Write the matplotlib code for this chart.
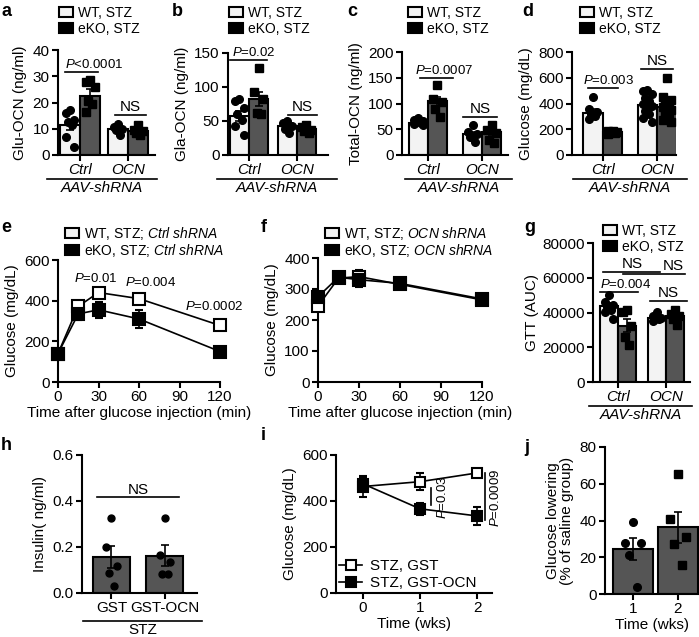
import numpy as np
import matplotlib
matplotlib.use("Agg")
import matplotlib.pyplot as plt
from matplotlib.patches import Patch
from matplotlib.lines import Line2D

plt.rcParams['font.family'] = ['Liberation Sans', 'DejaVu Sans']
plt.rcParams['mathtext.fontset'] = 'custom'
plt.rcParams['mathtext.rm'] = 'Liberation Sans'
plt.rcParams['mathtext.it'] = 'Liberation Sans:italic'
plt.rcParams['font.size'] = 11
plt.rcParams['axes.linewidth'] = 1.5
plt.rcParams['xtick.major.width'] = 1.5
plt.rcParams['ytick.major.width'] = 1.5
plt.rcParams['xtick.major.size'] = 4
plt.rcParams['ytick.major.size'] = 4

W, H = 699, 637
WHITE = "#f3f3f3"
DARK = "#555555"

# ---- data ----
groups = ["Ctrl", "OCN"]

# a: Glu-OCN
glu_wt = [11.4, 9.8]
glu_wt_sem = [1.9, 0.7]
glu_ko = [22.6, 9.2]
glu_ko_sem = [2.4, 0.7]
glu_wt_pts = [[17, 16, 13.3, 12.7, 11.4, 7, 3], [12, 10.5, 10, 9.5, 7.5]]
glu_ko_pts = [[28.5, 28, 26, 20.5, 19.5, 16.5], [11.5, 9.5, 9, 8.5, 7.5]]

# b: Gla-OCN
gla_wt = [57.5, 43]
gla_wt_sem = [7, 4]
gla_ko = [82, 38]
gla_ko_sem = [10, 3]
gla_wt_pts = [[83, 79, 69, 61, 52, 42, 30], [50, 47, 43, 38, 33]]
gla_ko_pts = [[128, 92, 82, 62, 60], [44, 41, 37, 35, 33]]

# c: Total-OCN
tot_wt = [63, 40]
tot_wt_sem = [2, 5]
tot_ko = [104.5, 44]
tot_ko_sem = [9, 6]
tot_wt_pts = [[72, 68, 66, 64, 62, 60, 58], [58, 45, 40, 35, 26]]
tot_ko_pts = [[135, 108, 103, 90, 74], [58, 48, 42, 30, 24]]

# d: Glucose
glc_wt = [330, 390]
glc_wt_sem = [25, 20]
glc_ko = [175, 372]
glc_ko_sem = [8, 25]
glc_wt_pts = [[452, 355, 335, 315, 300, 280],
              [505, 500, 470, 440, 420, 400, 380, 360, 345, 320, 285, 260]]
glc_ko_pts = [[190, 185, 180, 175, 170, 165],
              [600, 450, 430, 410, 390, 370, 350, 330, 310, 290, 270, 260]]

# e, f: GTT time course
gtt_time = [0, 15, 30, 60, 120]
e_wt = [140, 372, 440, 410, 278]
e_wt_sem = [10, 15, 12, 10, 10]
e_ko = [140, 335, 355, 310, 150]
e_ko_sem = [10, 30, 38, 42, 15]
e_pvals = ["$P$=0.01", "$P$=0.004", "$P$=0.0002"]
f_wt = [245, 335, 340, 315, 265]
f_wt_sem = [10, 10, 22, 8, 8]
f_ko = [275, 338, 330, 318, 268]
f_ko_sem = [12, 10, 25, 8, 10]

# g: GTT AUC
auc_wt = [43800, 37000]
auc_wt_sem = [1500, 800]
auc_ko = [32500, 38000]
auc_ko_sem = [3800, 1600]
auc_wt_pts = [[50000, 46000, 44500, 43000, 41500, 40500, 36000],
              [40500, 38000, 37000, 36500, 36000, 35000]]
auc_ko_pts = [[41500, 40500, 32000, 26000, 21500],
              [41500, 39000, 38000, 36500, 33000]]

# h: insulin
ins_groups = ["GST", "GST-OCN"]
ins_mean = [0.155, 0.162]
ins_sem = [0.048, 0.045]
ins_pts = [[0.325, 0.2, 0.116, 0.087, 0.029], [0.325, 0.166, 0.133, 0.084, 0.084]]

# i: glucose over weeks
weeks = [0, 1, 2]
i_gst = [463, 484, 522]
i_gst_sem = [45, 38, 18]
i_ocn = [475, 366, 335]
i_ocn_sem = [30, 27, 40]

# j: glucose lowering
j_weeks = [1, 2]
j_mean = [24.5, 36.2]
j_sem = [5.8, 8.2]
j_pts = [[39, 28, 28, 21, 4], [65.5, 41, 31, 27, 16]]


fig = plt.figure(figsize=(W / 100, H / 100), dpi=100)


def px_axes(l, t, r, b):
    ax = fig.add_axes([l / W, 1 - b / H, (r - l) / W, (b - t) / H])
    ax.spines['top'].set_visible(False)
    ax.spines['right'].set_visible(False)
    ax.tick_params(labelsize=11, pad=2)
    return ax


def jitter(n, spread):
    pattern = np.array([0, -1, 1, -0.5, 0.5, -1, 1, 0, -0.5, 0.5, -1, 1, 0])
    return pattern[:n] * spread


def dots(ax, x, pts, marker, spread, ms=5.5):
    ax.plot(x + jitter(len(pts), spread), pts, ls='none', marker=marker,
            color='black', ms=ms, zorder=3, clip_on=False)


def grouped_bars(ax, wt, wt_sem, wt_pts, ko, ko_sem, ko_pts, width):
    x = np.arange(len(groups))
    for sign, m, s, pts, col, mk in [(-1, wt, wt_sem, wt_pts, WHITE, 'o'),
                                     (1, ko, ko_sem, ko_pts, DARK, 's')]:
        xs = x + sign * width / 2
        ax.bar(xs, m, width, color=col, edgecolor='black', linewidth=1.5, zorder=1)
        for xi, p in zip(xs, pts):
            dots(ax, xi, p, mk, width * 0.22)
        ax.errorbar(xs, m, yerr=s, fmt='none', ecolor='black', elinewidth=1.2,
                    capsize=3, capthick=1.2, zorder=4)
    ax.set_xticks(x, groups, fontstyle='italic', fontsize=11)


def sig(ax, x1, x2, y, text, fs=10, ha='center', tx=None):
    ax.plot([x1, x2], [y, y], color='black', lw=1.2, clip_on=False)
    if tx is None:
        tx = (x1 + x2) / 2 if ha == 'center' else x1
    ax.annotate(text, (tx, y), xytext=(0, 0.5), textcoords='offset points',
                ha=ha, va='bottom', fontsize=fs, annotation_clip=False)


def caption(ax, x1, x2, label, italic=True, dy=24):
    hpx = ax.get_position().height * H
    yl = -dy / hpx
    tr = ax.get_xaxis_transform()
    ax.plot([x1, x2], [yl, yl], transform=tr, color='black', lw=1.2, clip_on=False)
    ax.text((x1 + x2) / 2, yl - 2 / hpx, label, transform=tr, ha='center', va='top',
            fontsize=11, fontstyle='italic' if italic else 'normal')


def box_legend(ax, labels, x, y, fs=10, spacing=0.12):
    handles = [Patch(facecolor=WHITE, edgecolor='black', linewidth=1.5),
               Patch(facecolor='black', edgecolor='black', linewidth=1.5)]
    ax.legend(handles, labels, loc='upper left', bbox_to_anchor=(x / W, 1 - y / H),
              bbox_transform=fig.transFigure, borderaxespad=0, borderpad=0,
              frameon=False, handlelength=1.0, handleheight=0.75,
              handletextpad=0.4, labelspacing=spacing, fontsize=fs)


def letter(x, y, s):
    fig.text(x / W, 1 - y / H, s, fontsize=13, fontweight='bold', va='center', ha='left')


leg_bar = ["WT, STZ", "eKO, STZ"]

# ---- a ----
ax = px_axes(58, 50, 155, 155)
grouped_bars(ax, glu_wt, glu_wt_sem, glu_wt_pts, glu_ko, glu_ko_sem, glu_ko_pts, 0.42)
ax.set_xlim(-0.46, 1.56)
ax.set_ylim(0, 40)
ax.set_yticks([0, 10, 20, 30, 40])
ax.set_ylabel("Glu-OCN (ng/ml)", fontsize=11)
sig(ax, -0.32, 0.38, 31.6, "$P$<0.0001", fs=9.5, ha='left')
sig(ax, 0.72, 1.38, 15.2, "NS", fs=11)
caption(ax, -0.69, 1.6, "AAV-shRNA")
box_legend(ax, leg_bar, 59, 6)
letter(1, 11, "a")

# ---- b ----
ax = px_axes(228, 53, 328, 155)
grouped_bars(ax, gla_wt, gla_wt_sem, gla_wt_pts, gla_ko, gla_ko_sem, gla_ko_pts, 0.4)
ax.set_xlim(-0.44, 1.65)
ax.set_ylim(0, 150)
ax.set_yticks([0, 50, 100, 150])
ax.set_ylabel("Gla-OCN (ng/ml)", fontsize=11)
sig(ax, -0.4, 0.38, 140, "$P$=0.02", fs=9.5, ha='left', tx=-0.35)
sig(ax, 0.82, 1.42, 58.8, "NS", fs=11)
caption(ax, -0.67, 1.83, "AAV-shRNA")
box_legend(ax, leg_bar, 229, 6)
letter(172, 11, "b")

# ---- c ----
ax = px_axes(402, 52, 508, 155)
grouped_bars(ax, tot_wt, tot_wt_sem, tot_wt_pts, tot_ko, tot_ko_sem, tot_ko_pts, 0.35)
ax.set_xlim(-0.48, 1.48)
ax.set_ylim(0, 200)
ax.set_yticks([0, 50, 100, 150, 200])
ax.set_ylabel("Total-OCN (ng/ml)", fontsize=11)
sig(ax, -0.15, 0.46, 150, "$P$=0.0007", fs=9.5, ha='left', tx=-0.24)
sig(ax, 0.65, 1.28, 74, "NS", fs=11)
caption(ax, -0.42, 1.56, "AAV-shRNA")
box_legend(ax, leg_bar, 408, 6)
letter(347, 11, "c")

# ---- d ----
ax = px_axes(572, 52, 676, 155)
grouped_bars(ax, glc_wt, glc_wt_sem, glc_wt_pts, glc_ko, glc_ko_sem, glc_ko_pts, 0.36)
ax.set_xlim(-0.57, 1.35)
ax.set_ylim(0, 800)
ax.set_yticks([0, 200, 400, 600, 800])
ax.set_ylabel("Glucose (mg/dL)", fontsize=11)
sig(ax, -0.28, 0.28, 520, "$P$=0.003", fs=9.5, ha='left', tx=-0.37)
sig(ax, 0.7, 1.3, 668, "NS", fs=11)
caption(ax, -0.56, 1.56, "AAV-shRNA")
box_legend(ax, leg_bar, 580, 6)
letter(522, 11, "d")


def time_course(ax, t, wt, wt_sem, ko, ko_sem):
    for y, s, fc in [(wt, wt_sem, 'white'), (ko, ko_sem, 'black')]:
        ax.errorbar(t, y, yerr=s, color='black', lw=1.2, elinewidth=1.2, capsize=3,
                    capthick=1.2, marker='s', ms=8, mfc=fc, mec='black', mew=1.5,
                    clip_on=False, zorder=3)
    ax.set_xlim(0, 120)
    ax.set_xticks([0, 30, 60, 90, 120])
    ax.set_xlabel("Time after glucose injection (min)", fontsize=11, labelpad=1)
    ax.set_ylabel("Glucose (mg/dL)", fontsize=11)


# ---- e ----
ax = px_axes(58, 260, 220, 382)
time_course(ax, gtt_time, e_wt, e_wt_sem, e_ko, e_ko_sem)
ax.set_ylim(0, 600)
ax.set_yticks([0, 200, 400, 600])
for tx, ty, lab in zip([28, 69, 116], [511, 490, 369], e_pvals):
    ax.text(tx, ty, lab, ha='center', va='center', fontsize=9.5, clip_on=False)
box_legend(ax, ["WT, STZ; $Ctrl$ $shRNA$", "eKO, STZ; $Ctrl$ $shRNA$"], 65, 225,
           spacing=0.0)
letter(1, 228, "e")

# ---- f ----
ax = px_axes(318, 258, 482, 382)
time_course(ax, gtt_time, f_wt, f_wt_sem, f_ko, f_ko_sem)
ax.set_ylim(0, 400)
ax.set_yticks([0, 100, 200, 300, 400])
box_legend(ax, ["WT, STZ; $OCN$ $shRNA$", "eKO, STZ; $OCN$ $shRNA$"], 325, 225,
           spacing=0.0)
letter(261, 228, "f")

# ---- g ----
ax = px_axes(593, 243, 690, 382)
grouped_bars(ax, auc_wt, auc_wt_sem, auc_wt_pts, auc_ko, auc_ko_sem, auc_ko_pts, 0.38)
ax.set_xlim(-0.52, 1.5)
ax.set_ylim(0, 80000)
ax.set_yticks([0, 20000, 40000, 60000, 80000])
ax.set_ylabel("GTT (AUC)", fontsize=11, labelpad=2)
ax.plot([-0.31, 0.875], [63300, 63300], color='black', lw=1.2)
ax.text(0.29, 63800, "NS", ha='center', va='bottom', fontsize=11)
ax.plot([0.1, 1.4], [62200, 62200], color='black', lw=1.2, clip_on=False)
ax.text(1.15, 62700, "NS", ha='center', va='bottom', fontsize=11, clip_on=False)
sig(ax, -0.37, 0.42, 51800, "$P$=0.004", fs=9.5, ha='left')
sig(ax, 0.67, 1.44, 46600, "NS", fs=11)
caption(ax, -0.6, 1.55, "AAV-shRNA")
box_legend(ax, leg_bar, 603, 224)
letter(524, 228, "g")

# ---- h ----
ax = px_axes(82, 455, 197, 593)
xh = np.arange(len(ins_groups))
ax.bar(xh, ins_mean, 0.69, color=DARK, edgecolor='black', linewidth=1.5, zorder=1)
for xi, p in zip(xh, ins_pts):
    dots(ax, xi, p, 'o', 0.1, ms=5)
ax.errorbar(xh, ins_mean, yerr=ins_sem, fmt='none', ecolor='black', elinewidth=1.2,
            capsize=3, capthick=1.2, zorder=4)
ax.set_xticks(xh, ins_groups, fontsize=11)
ax.set_xlim(-0.55, 1.6)
ax.set_ylim(0, 0.6)
ax.set_yticks([0, 0.2, 0.4, 0.6], ["0.0", "0.2", "0.4", "0.6"])
ax.set_ylabel("Insulin( ng/ml)", fontsize=11)
sig(ax, -0.27, 1.27, 0.416, "NS", fs=11)
caption(ax, -0.53, 1.7, "STZ", italic=False, dy=28)
letter(1, 446, "h")

# ---- i ----
ax = px_axes(336, 455, 492, 593)
ax.errorbar(weeks, i_gst, yerr=i_gst_sem, color='black', lw=1.2, capsize=3, capthick=1.2,
            marker='s', ms=7, mfc='white', mec='black', mew=1.5, zorder=3, clip_on=False)
ax.errorbar(weeks, i_ocn, yerr=i_ocn_sem, color='black', lw=1.2, capsize=3, capthick=1.2,
            marker='s', ms=7, mfc='black', mec='black', mew=1.5, zorder=4, clip_on=False)
ax.set_xlim(-0.47, 2.26)
ax.set_xticks(weeks)
ax.set_ylim(0, 600)
ax.set_yticks([0, 200, 400, 600])
ax.set_xlabel("Time (wks)", fontsize=11, labelpad=1)
ax.set_ylabel("Glucose (mg/dL)", fontsize=11)
ax.plot([1.19, 1.19], [383, 455], color='black', lw=1.2)
ax.text(1.4, 419, "$P$=0.03", rotation=90, ha='center', va='center', fontsize=9.5)
ax.plot([2.14, 2.14], [317, 522], color='black', lw=1.2, clip_on=False)
ax.text(2.32, 413, "$P$=0.0009", rotation=90, ha='center', va='center', fontsize=9.5,
        clip_on=False)
i_handles = [Line2D([], [], color='black', lw=1.2, marker='s', ms=7, mfc='white', mew=1.5),
             Line2D([], [], color='black', lw=1.2, marker='s', ms=7, mfc='black', mew=1.5)]
ax.legend(i_handles, ["STZ, GST", "STZ, GST-OCN"], loc='lower left', frameon=False,
          fontsize=11, handlelength=1.5, handletextpad=0.5, labelspacing=0.2,
          borderaxespad=0.2, borderpad=0)
letter(261, 436, "i")

# ---- j ----
ax = px_axes(605, 447, 699, 594)
ax.bar(j_weeks, j_mean, 0.88, color=DARK, edgecolor='black', linewidth=1.5, zorder=1)
for xi, p, mk in zip(j_weeks, j_pts, ['o', 's']):
    dots(ax, xi, p, mk, 0.18)
ax.errorbar(j_weeks, j_mean, yerr=j_sem, fmt='none', ecolor='black', elinewidth=1.2,
            capsize=3, capthick=1.2, zorder=4)
ax.set_xlim(0.38, 2.47)
ax.set_xticks(j_weeks)
ax.set_ylim(0, 80)
ax.set_yticks([0, 20, 40, 60, 80])
ax.set_xlabel("Time (wks)", fontsize=11, labelpad=1)
ax.set_ylabel("Glucose lowering\n(% of saline group)", fontsize=11, linespacing=1.0)
letter(524, 447, "j")

fig.savefig("out.png", dpi=100)
